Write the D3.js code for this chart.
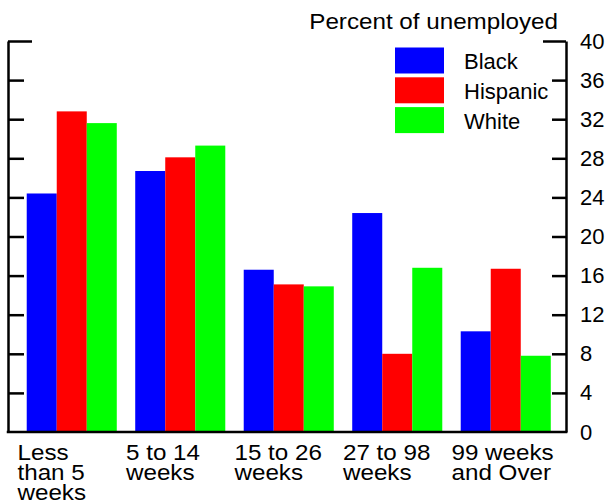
<!DOCTYPE html>
<html lang="en">
<head>
  <meta charset="UTF-8">
  <style>
    body {
      margin: 0;
      overflow: hidden;
      background: #fff;
    }

    svg {
      display: block;
      font-family: "Liberation Sans", Arial, sans-serif;
    }

    .axis path,
    .axis line {
      stroke: #000;
      stroke-width: 2.5;
    }

    .axis text {
      font-size: 22px;
      fill: #000;
    }
  </style>
  <script src="https://d3js.org/d3.v7.min.js"></script>
</head>
<body>

<svg id="chart"></svg>

<script>
  // data
  const categories = [
    ["Less", "than 5", "weeks"],
    ["5 to 14", "weeks"],
    ["15 to 26", "weeks"],
    ["27 to 98", "weeks"],
    ["99 weeks", "and Over"]
  ];
  const series = ["Black", "Hispanic", "White"];
  const colors = ["#0000ff", "#ff0000", "#00ff00"];
  const black = [24.4, 26.7, 16.6, 22.4, 10.3];
  const hispanic = [32.8, 28.1, 15.1, 8.0, 16.7];
  const white = [31.6, 29.3, 14.9, 16.8, 7.8];
  const yTicks = [0, 4, 8, 12, 16, 20, 24, 28, 32, 36, 40];

  const width = 609, height = 504;
  const plotLeft = 8, plotRight = 566, plotTop = 41, plotBottom = 432;

  const svg = d3.select("#chart")
    .attr("width", width)
    .attr("height", height);

  const keys = categories.map((c, i) => "c" + i);
  const values = [black, hispanic, white];

  const x0 = d3.scaleBand()
    .domain(keys)
    .range([17.5, 560])
    .paddingInner(0.17)
    .paddingOuter(0.085);

  const x1 = d3.scaleBand()
    .domain(series)
    .range([0, x0.bandwidth()]);

  const y = d3.scaleLinear()
    .domain([0, 40])
    .range([plotBottom, plotTop]);

  const color = d3.scaleOrdinal().domain(series).range(colors);

  // bars
  const groups = svg.append("g")
    .selectAll("g")
    .data(keys)
    .join("g")
    .attr("transform", d => `translate(${x0(d)},0)`);

  groups.selectAll("rect")
    .data((d, i) => series.map((s, j) => ({ s: s, v: values[j][i] })))
    .join("rect")
    .attr("x", d => x1(d.s))
    .attr("width", x1.bandwidth())
    .attr("y", d => y(d.v))
    .attr("height", d => y(0) - y(d.v))
    .attr("fill", d => color(d.s));

  // right axis with labels, ticks pointing inward
  const rightAxis = svg.append("g")
    .attr("class", "axis")
    .attr("transform", `translate(${plotRight},0)`)
    .call(d3.axisRight(y)
      .tickValues(yTicks)
      .tickSizeInner(-14)
      .tickSizeOuter(0)
      .tickPadding(14));
  rightAxis.selectAll(".tick line")
    .filter(d => d === 40)
    .attr("x2", -23);
  rightAxis.selectAll(".tick line")
    .filter(d => d === 0)
    .remove();

  // left axis, no labels
  const leftAxis = svg.append("g")
    .attr("class", "axis")
    .attr("transform", `translate(${plotLeft},0)`)
    .call(d3.axisLeft(y)
      .tickValues(yTicks)
      .tickSizeInner(-16)
      .tickSizeOuter(0)
      .tickFormat(""));
  leftAxis.selectAll(".tick line")
    .filter(d => d === 40)
    .attr("x2", 24);
  leftAxis.selectAll(".tick line")
    .filter(d => d === 0)
    .remove();

  // bottom line
  svg.append("line")
    .attr("x1", plotLeft - 1.25)
    .attr("x2", plotRight + 1.25)
    .attr("y1", plotBottom)
    .attr("y2", plotBottom)
    .attr("stroke", "#000")
    .attr("stroke-width", 2.5);

  // category labels, left aligned at each step, a bit wide like the original
  const stepPad = x0.step() * x0.paddingInner() / 2;
  svg.append("g")
    .selectAll("text")
    .data(keys)
    .join("text")
    .attr("transform", d => `translate(${x0(d) - stepPad},460) scale(1.1,1)`)
    .attr("font-size", 22)
    .each(function(d, i) {
      d3.select(this).selectAll("tspan")
        .data(categories[i])
        .join("tspan")
        .attr("x", 0)
        .attr("y", (t, k) => k * 20)
        .text(t => t);
    });

  // title
  svg.append("text")
    .attr("transform", "translate(558,29) scale(1.1,1)")
    .attr("text-anchor", "end")
    .attr("font-size", 22)
    .text("Percent of unemployed");

  // legend
  const legend = svg.append("g")
    .selectAll("g")
    .data(series)
    .join("g")
    .attr("transform", (d, i) => `translate(395,${47.5 + i * 29.8})`);

  legend.append("rect")
    .attr("width", 49)
    .attr("height", 26)
    .attr("fill", d => color(d));

  legend.append("text")
    .attr("x", 69)
    .attr("y", 21.5)
    .attr("font-size", 22)
    .text(d => d);
</script>

</body>
</html>
